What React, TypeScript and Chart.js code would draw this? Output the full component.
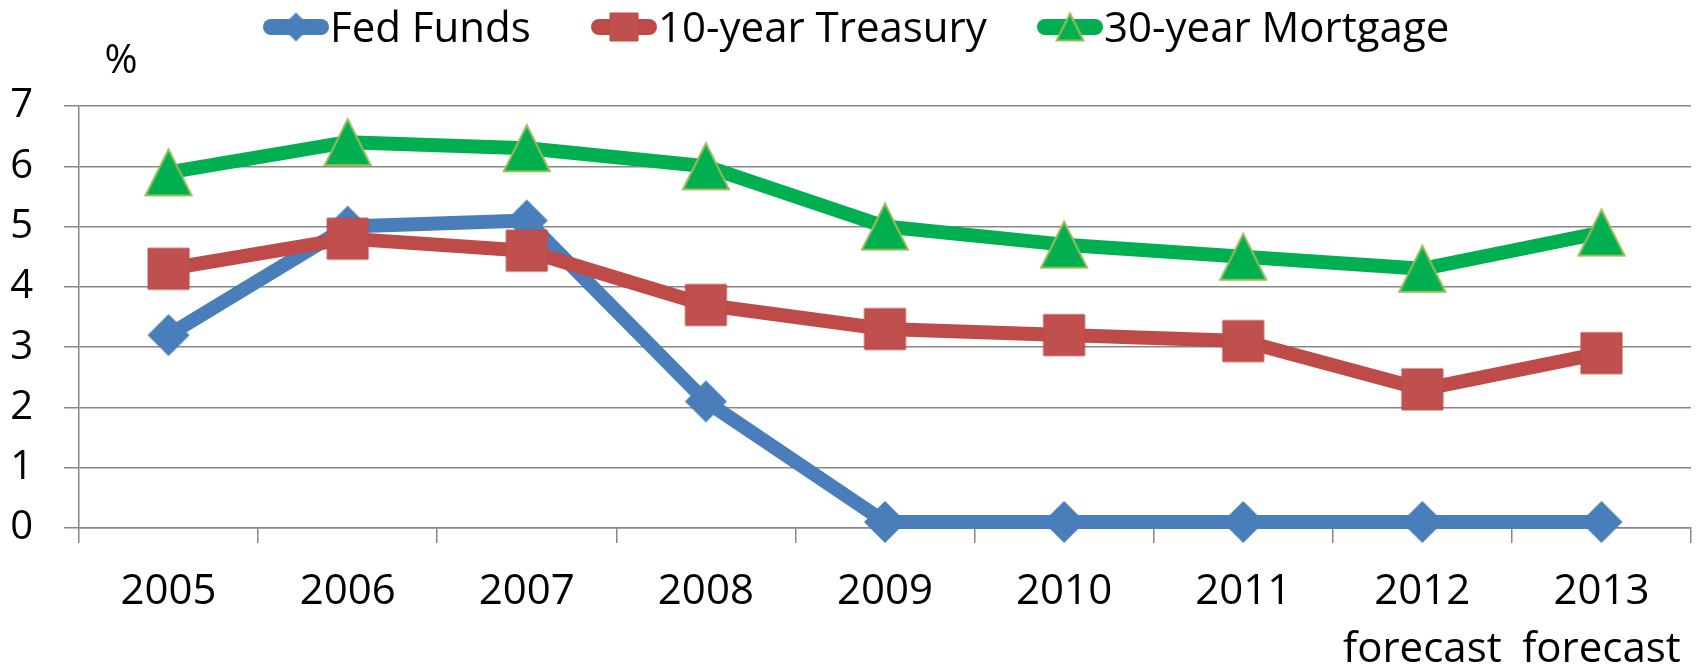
import React, { useEffect, useRef } from 'react';
import { Chart, registerables } from 'chart.js';

Chart.register(...registerables);

// ---- data ----
const categories: (string | string[])[] = [
  '2005', '2006', '2007', '2008', '2009', '2010', '2011',
  ['2012', 'forecast'], ['2013', 'forecast'],
];
const seriesNames = ['Fed Funds', '10-year Treasury', '30-year Mortgage'];
const fedFunds = [3.2, 5.0, 5.1, 2.1, 0.1, 0.1, 0.1, 0.1, 0.1];
const treasury10 = [4.3, 4.8, 4.6, 3.7, 3.3, 3.2, 3.1, 2.3, 2.9];
const mortgage30 = [5.9, 6.4, 6.3, 6.0, 5.0, 4.7, 4.5, 4.3, 4.9];
const yMin = 0;
const yMax = 7;
const yStep = 1;
const yUnit = '%';

const FONT = '"Open Sans", "Liberation Sans", sans-serif';
const GRID = '#878787';

type Kind = 'diamond' | 'square' | 'triangle';

function makeMarker(kind: Kind, size: number, fill: string, stroke?: string, sw = 0) {
  const pad = Math.ceil(sw) + 1;
  const c = document.createElement('canvas');
  c.width = size + 2 * pad;
  c.height = size + 2 * pad;
  const g = c.getContext('2d')!;
  g.beginPath();
  if (kind === 'diamond') {
    g.moveTo(pad + size / 2, pad);
    g.lineTo(pad + size, pad + size / 2);
    g.lineTo(pad + size / 2, pad + size);
    g.lineTo(pad, pad + size / 2);
  } else if (kind === 'square') {
    g.rect(pad, pad, size, size);
  } else {
    g.moveTo(pad + size / 2, pad);
    g.lineTo(pad + size, pad + size);
    g.lineTo(pad, pad + size);
  }
  g.closePath();
  g.fillStyle = fill;
  g.fill();
  if (stroke && sw > 0) {
    g.lineWidth = sw;
    g.strokeStyle = stroke;
    g.lineJoin = 'miter';
    g.stroke();
  }
  return c;
}

export default function App() {
  const ref = useRef<HTMLCanvasElement | null>(null);

  useEffect(() => {
    if (!ref.current) return;
    Chart.defaults.font.family = FONT;
    Chart.defaults.color = '#000';

    const lineColors = ['#4A7EBB', '#BE4B48', '#00B050'];
    const markers = [
      makeMarker('diamond', 42, '#4A7EBB'),
      makeMarker('square', 41, '#C0504D', '#BE4B48', 1),
      makeMarker('triangle', 46, '#00B050', '#9BBB59', 2),
    ];
    const legendMarkers = [
      makeMarker('diamond', 29, '#4A7EBB'),
      makeMarker('square', 28, '#C0504D', '#BE4B48', 1),
      makeMarker('triangle', 27, '#00B050', '#9BBB59', 2),
    ];
    const legendStarts = [263, 591, 1037];

    const overlay = {
      id: 'overlay',
      afterDraw(chart: any) {
        const ctx = chart.ctx as CanvasRenderingContext2D;
        ctx.save();
        const cy = 27;
        chart.data.datasets.forEach((ds: any, i: number) => {
          const x0 = legendStarts[i];
          ctx.strokeStyle = lineColors[i];
          ctx.lineWidth = 16;
          ctx.lineCap = 'round';
          ctx.beginPath();
          ctx.moveTo(x0 + 8, cy);
          ctx.lineTo(x0 + 58, cy);
          ctx.stroke();
          const m = legendMarkers[i];
          ctx.drawImage(m, x0 + 33 - m.width / 2, cy - m.height / 2);
          ctx.fillStyle = '#000';
          ctx.font = `42px ${FONT}`;
          ctx.textAlign = 'left';
          ctx.textBaseline = 'alphabetic';
          ctx.fillText(ds.label, x0 + 67, 42);
        });
        ctx.font = `40px ${FONT}`;
        ctx.textAlign = 'center';
        ctx.textBaseline = 'middle';
        ctx.fillStyle = '#000';
        ctx.fillText(yUnit, 121, 62);
        ctx.restore();
      },
    };

    const series = [fedFunds, treasury10, mortgage30];
    const orders = [3, 2, 1];

    const chart = new Chart(ref.current, {
      type: 'line',
      data: {
        labels: categories,
        datasets: series.map((d, i) => ({
          label: seriesNames[i],
          data: d,
          borderColor: lineColors[i],
          backgroundColor: lineColors[i],
          borderWidth: 14,
          borderCapStyle: 'round',
          borderJoinStyle: 'round',
          tension: 0,
          pointStyle: markers[i] as any,
          pointRadius: 21,
          pointHoverRadius: 21,
          order: orders[i],
          clip: false as any,
        })),
      },
      options: {
        responsive: false,
        animation: false,
        devicePixelRatio: 1,
        events: [],
        layout: { autoPadding: false, padding: { top: 106, right: 11, left: 0, bottom: 0 } },
        plugins: {
          legend: { display: false },
          tooltip: { enabled: false },
          title: { display: false },
        },
        scales: {
          x: {
            type: 'category',
            offset: true,
            grid: {
              offset: true,
              drawOnChartArea: false,
              drawTicks: true,
              tickLength: 15,
              color: GRID,
              lineWidth: 1.5,
            },
            border: { display: true, color: GRID, width: 1.5 },
            ticks: {
              color: '#000',
              font: { size: 42, lineHeight: 58 / 42 },
              padding: 20,
              maxRotation: 0,
              minRotation: 0,
              autoSkip: false,
            },
            afterFit: (s: any) => {
              s.height = 140;
              s.paddingLeft = 0;
              s.paddingRight = 0;
            },
          },
          y: {
            min: yMin,
            max: yMax,
            ticks: {
              stepSize: yStep,
              color: '#000',
              font: { size: 40 },
              padding: 31,
            },
            grid: { color: GRID, lineWidth: 1.5, tickLength: 15, drawTicks: true },
            border: { display: true, color: GRID, width: 1.5 },
            afterFit: (s: any) => {
              s.width = 79;
              s.paddingTop = 0;
              s.paddingBottom = 0;
            },
          },
        },
      },
      plugins: [overlay],
    } as any);

    return () => chart.destroy();
  }, []);

  return (
    <div style={{ position: 'absolute', left: 0, top: 0, width: 1702, height: 668, background: '#fff' }}>
      <canvas ref={ref} width={1702} height={668} style={{ display: 'block', width: 1702, height: 668 }} />
    </div>
  );
}
